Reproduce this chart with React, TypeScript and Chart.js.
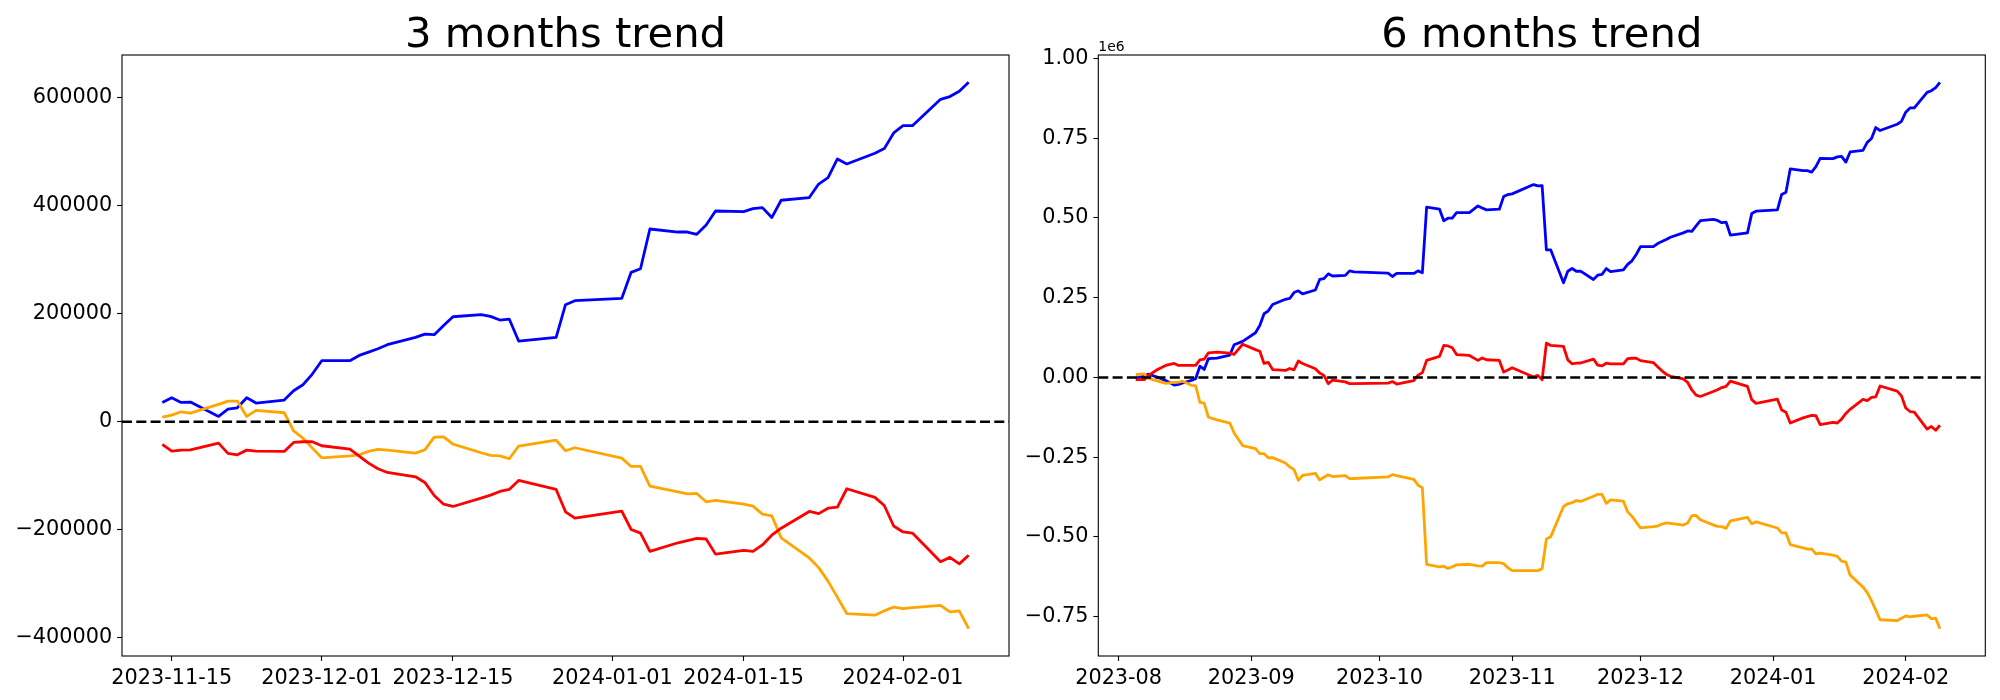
import React, { useEffect, useRef } from 'react';
import { Chart, registerables } from 'chart.js';

Chart.register(...registerables);

const FONT = '"DejaVu Sans", "Liberation Sans", sans-serif';
const DAY = 86400000;

// ---------------- 3 months trend ----------------
const LEFT_DATES = [
  '2023-11-14', '2023-11-15', '2023-11-16', '2023-11-17', '2023-11-20', '2023-11-21', '2023-11-22', '2023-11-23', '2023-11-24',
  '2023-11-27', '2023-11-28', '2023-11-29', '2023-11-30', '2023-12-01', '2023-12-04', '2023-12-05', '2023-12-06', '2023-12-07',
  '2023-12-08', '2023-12-11', '2023-12-12', '2023-12-13', '2023-12-14', '2023-12-15', '2023-12-18', '2023-12-19', '2023-12-20',
  '2023-12-21', '2023-12-22', '2023-12-26', '2023-12-27', '2023-12-28', '2024-01-02', '2024-01-03', '2024-01-04', '2024-01-05',
  '2024-01-08', '2024-01-09', '2024-01-10', '2024-01-11', '2024-01-12', '2024-01-15', '2024-01-16', '2024-01-17', '2024-01-18',
  '2024-01-19', '2024-01-22', '2024-01-23', '2024-01-24', '2024-01-25', '2024-01-26', '2024-01-29', '2024-01-30', '2024-01-31',
  '2024-02-01', '2024-02-02', '2024-02-05', '2024-02-06', '2024-02-07', '2024-02-08',
];
const LEFT_BLUE = [
  35800, 44400, 35800, 36400, 9900, 23500, 25900, 44400, 34600,
  40100, 57400, 68500, 88300, 113000, 113000, 122800, 129000, 135200,
  142600, 156200, 162300, 161100, 178000, 194400, 198200, 195100, 188300,
  190100, 149400, 156200, 216700, 224100, 228400, 276600, 283300, 356800,
  351200, 351200, 346900, 364200, 390100, 388900, 394500, 396300, 378000,
  410000, 415000, 440000, 452000, 486400, 477200, 496900, 505600, 534600,
  548100, 548100, 596900, 601900, 611700, 628300,
];
const LEFT_ORANGE = [
  8600, 12300, 18500, 16000, 32100, 38300, 38300, 9900, 21000,
  16700, -16700, -30200, -48800, -66700, -63000, -61100, -54900, -51200,
  -52500, -58000, -51900, -28400, -27800, -41400, -57400, -62300, -63000,
  -68500, -45100, -34000, -53700, -48100, -67300, -82700, -82700, -119100,
  -129600, -133300, -132700, -148200, -145700, -152500, -156200, -171000, -174000,
  -215000, -252000, -270000, -295000, -325000, -355000, -358000, -350000, -343000,
  -346000, -344000, -340000, -352000, -350000, -383000,
];
const LEFT_RED = [
  -42000, -54300, -52500, -51900, -39500, -58600, -61100, -52500, -54300,
  -54900, -38300, -37000, -37000, -44400, -50600, -63600, -76500, -87000,
  -93800, -101900, -112300, -136400, -152500, -156800, -141400, -135800, -129000,
  -125300, -108600, -125300, -166700, -178400, -165400, -199400, -206200, -240000,
  -224000, -220000, -216000, -217000, -245000, -238000, -240000, -228000, -210000,
  -197000, -166000, -170000, -160000, -158000, -124000, -140000, -155000, -193000,
  -204000, -206000, -259000, -251000, -263000, -247000,
];
const LEFT_X_TICKS = ['2023-11-15', '2023-12-01', '2023-12-15', '2024-01-01', '2024-01-15', '2024-02-01'];
const LEFT_Y_TICKS = [-400000, -200000, 0, 200000, 400000, 600000];

// ---------------- 6 months trend ----------------
const RIGHT_DATES = [
  '2023-08-05', '2023-08-07', '2023-08-08', '2023-08-10', '2023-08-12', '2023-08-14', '2023-08-15', '2023-08-16', '2023-08-18',
  '2023-08-19', '2023-08-20', '2023-08-21', '2023-08-22', '2023-08-24', '2023-08-27', '2023-08-28', '2023-08-30', '2023-09-02',
  '2023-09-03', '2023-09-04', '2023-09-05', '2023-09-06', '2023-09-09', '2023-09-10', '2023-09-11', '2023-09-12', '2023-09-13',
  '2023-09-16', '2023-09-17', '2023-09-18', '2023-09-19', '2023-09-20', '2023-09-23', '2023-09-24', '2023-09-25', '2023-10-03',
  '2023-10-04', '2023-10-05', '2023-10-09', '2023-10-10', '2023-10-11', '2023-10-12', '2023-10-15', '2023-10-16', '2023-10-17',
  '2023-10-18', '2023-10-19', '2023-10-22', '2023-10-24', '2023-10-25', '2023-10-26', '2023-10-29', '2023-10-30', '2023-10-31',
  '2023-11-01', '2023-11-06', '2023-11-07', '2023-11-08', '2023-11-09', '2023-11-10', '2023-11-13',
  '2023-11-14', '2023-11-15', '2023-11-16', '2023-11-17', '2023-11-20', '2023-11-21', '2023-11-22', '2023-11-23', '2023-11-24',
  '2023-11-27', '2023-11-28', '2023-11-29', '2023-11-30', '2023-12-01', '2023-12-04', '2023-12-05', '2023-12-06', '2023-12-07',
  '2023-12-08', '2023-12-11', '2023-12-12', '2023-12-13', '2023-12-14', '2023-12-15', '2023-12-18', '2023-12-19', '2023-12-20',
  '2023-12-21', '2023-12-22', '2023-12-26', '2023-12-27', '2023-12-28', '2024-01-02', '2024-01-03', '2024-01-04', '2024-01-05',
  '2024-01-08', '2024-01-09', '2024-01-10', '2024-01-11', '2024-01-12', '2024-01-15', '2024-01-16', '2024-01-17', '2024-01-18',
  '2024-01-19', '2024-01-22', '2024-01-23', '2024-01-24', '2024-01-25', '2024-01-26', '2024-01-30', '2024-01-31', '2024-02-01',
  '2024-02-02', '2024-02-03', '2024-02-06', '2024-02-07', '2024-02-08', '2024-02-09',
];
const RIGHT_BLUE = [
  -2000, 4000, 10400, 1000, -10000, -24000, -22000, -17700, -9400,
  -4200, 35000, 25000, 59000, 60600, 70000, 102300, 113000, 140000,
  162900, 199500, 208800, 228700, 245000, 247500, 266000, 271500, 262100,
  274000, 307000, 309500, 324800, 318000, 320000, 334000, 331000, 327000,
  316400, 326000, 326000, 334000, 328000, 533600, 528000, 491000, 499200,
  499200, 516400, 516900, 537800, 531000, 525300, 527400, 567000, 573300,
  575400, 604600, 600500, 601500, 400000, 400000, 297000,
  332800, 341400, 332800, 333400, 306900, 320500, 322900, 341400, 331600,
  337100, 354400, 365500, 385300, 410000, 410000, 419800, 426000, 432200,
  439600, 453200, 459300, 458100, 475000, 491400, 495200, 492100, 485300,
  487100, 446400, 453200, 513700, 521100, 525400, 573600, 580300, 653800,
  648200, 648200, 643900, 661200, 687100, 685900, 691500, 693300, 675000,
  707000, 712000, 737000, 749000, 783400, 774200, 793900, 802600, 831600,
  845100, 845100, 893900, 898900, 908700, 925300,
];
const RIGHT_ORANGE = [
  8400, 10900, -3000, -11000, -19000, -15500, -14600, -12000, -25000,
  -26100, -78000, -80400, -125000, -133000, -143100, -174400, -214000, -223500,
  -239100, -239100, -252000, -251700, -268400, -281000, -289000, -322700, -307000,
  -301000, -321500, -313000, -305500, -311000, -308100, -317500, -317000, -312200,
  -304900, -308000, -320000, -338000, -345600, -586000, -594000, -592000, -599000,
  -594000, -588000, -586000, -591000, -592000, -581000, -581000, -584000, -597000,
  -606000, -606000, -606000, -600000, -507000, -500000, -405000,
  -396400, -392700, -386500, -389000, -372900, -366700, -366700, -395100, -384000,
  -388300, -421700, -435200, -453800, -471700, -468000, -466100, -459900, -456200,
  -457500, -463000, -456900, -433400, -432800, -446400, -462400, -467300, -468000,
  -473500, -450100, -439000, -458700, -453100, -472300, -487700, -487700, -524100,
  -534600, -538300, -537700, -553200, -550700, -557500, -561200, -576000, -579000,
  -620000, -657000, -675000, -700000, -730000, -760000, -763000, -755000, -748000,
  -751000, -749000, -745000, -757000, -755000, -788000,
];
const RIGHT_RED = [
  -7300, -7300, 6300, 24000, 37600, 43900, 37600, 37600, 37600,
  37600, 55000, 57000, 77000, 79400, 76200, 72100, 104000, 87000,
  82000, 43800, 47000, 24500, 21900, 28000, 23500, 51200, 43800,
  27100, 14000, 6300, -19800, -8500, -14000, -19800, -19500, -17800,
  -13000, -20800, -10500, 7000, 15000, 53300, 65800, 100300, 98500,
  93000, 71500, 68900, 53300, 61000, 55300, 53300, 16700, 23500,
  30300, 1000, 6300, -7300, 107600, 100300, 97000,
  55000, 42700, 44500, 45100, 57500, 38400, 35900, 44500, 42700,
  42100, 58700, 60000, 60000, 52600, 46400, 33400, 20500, 10000,
  3200, -4900, -15300, -39400, -55500, -59800, -44400, -38800, -32000,
  -28300, -11600, -28300, -69700, -81400, -68400, -102400, -109200, -143000,
  -127000, -123000, -119000, -120000, -148000, -141000, -143000, -131000, -113000,
  -100000, -69000, -73000, -63000, -61000, -27000, -43000, -58000, -96000,
  -107000, -109000, -162000, -154000, -166000, -150000,
];
const RIGHT_X_TICKS = ['2023-08-01', '2023-09-01', '2023-10-01', '2023-11-01', '2023-12-01', '2024-01-01', '2024-02-01'];
const RIGHT_Y_TICKS = [-750000, -500000, -250000, 0, 250000, 500000, 750000, 1000000];

const COLORS = { blue: '#0000ff', orange: '#ffa500', red: '#ff0000' };

const toMs = (s: string) => Date.parse(s + 'T00:00:00Z');
const pad2 = (n: number) => String(n).padStart(2, '0');
const minus = (s: string) => s.replace('-', '\u2212');

const framePlugin = {
  id: 'frame',
  afterDatasetsDraw(chart: any, _args: any, opts: any) {
    const { ctx, chartArea: a, scales } = chart;
    const y0 = scales.y.getPixelForValue(0);
    ctx.save();
    ctx.beginPath();
    ctx.rect(a.left, a.top, a.right - a.left, a.bottom - a.top);
    ctx.clip();
    ctx.setLineDash([10, 4.3]);
    ctx.lineWidth = 2.5;
    ctx.strokeStyle = '#000';
    ctx.beginPath();
    ctx.moveTo(a.left, y0);
    ctx.lineTo(a.right, y0);
    ctx.stroke();
    ctx.restore();

    ctx.save();
    ctx.lineWidth = 1.1;
    ctx.strokeStyle = '#000';
    ctx.strokeRect(a.left, a.top, a.right - a.left, a.bottom - a.top);
    ctx.fillStyle = '#000';
    ctx.font = `41.7px ${FONT}`;
    ctx.textAlign = 'center';
    ctx.textBaseline = 'alphabetic';
    ctx.fillText(opts.title, (a.left + a.right) / 2, a.top - 8.3);
    if (opts.offsetText) {
      ctx.font = `13.9px ${FONT}`;
      ctx.textAlign = 'left';
      ctx.fillText(opts.offsetText, a.left, a.top - 4);
    }
    ctx.restore();
  },
};

function buildConfig(p: any) {
  const ds = (label: string, vals: number[], color: string) => ({
    label,
    data: p.dates.map((d: string, i: number) => ({ x: toMs(d), y: vals[i] })),
    borderColor: color,
    backgroundColor: color,
    borderWidth: 2.8,
    pointRadius: 0,
    tension: 0,
    fill: false,
    borderJoinStyle: 'round',
  });
  const all = [...p.blue, ...p.orange, ...p.red];
  const ymin = Math.min(...all);
  const ymax = Math.max(...all);
  const ym = (ymax - ymin) * 0.05;
  const tickCommon = { color: '#000', font: { size: 20.8, family: FONT }, padding: 4.9, autoSkip: false, maxRotation: 0 };
  const gridCommon = { display: true, drawOnChartArea: false, drawTicks: true, tickLength: 4.9, tickColor: '#000', tickWidth: 1.1, color: '#000' };
  return {
    type: 'line',
    data: {
      datasets: [
        ds('red', p.red, COLORS.red),
        ds('orange', p.orange, COLORS.orange),
        ds('blue', p.blue, COLORS.blue),
      ],
    },
    options: {
      animation: false,
      responsive: false,
      devicePixelRatio: 1,
      events: [],
      layout: { padding: { left: 0, right: p.padRight, top: 55, bottom: 0 } },
      plugins: {
        legend: { display: false },
        tooltip: { enabled: false },
        title: { display: false },
        frame: { title: p.title, offsetText: p.offsetText },
      },
      scales: {
        x: {
          type: 'linear',
          min: p.xmin,
          max: p.xmax,
          afterBuildTicks: (s: any) => { s.ticks = p.xTicks.map((d: string) => ({ value: toMs(d) })); },
          afterFit: (s: any) => { s.height = 44; },
          ticks: { ...tickCommon, callback: p.xFormat },
          grid: gridCommon,
          border: { display: false },
        },
        y: {
          type: 'linear',
          min: ymin - ym,
          max: ymax + ym,
          afterBuildTicks: (s: any) => { s.ticks = p.yTicks.map((v: number) => ({ value: v })); },
          afterFit: (s: any) => { s.width = p.yWidth; },
          ticks: { ...tickCommon, callback: p.yFormat },
          grid: gridCommon,
          border: { display: false },
        },
      },
    },
    plugins: [framePlugin],
  };
}

export default function App() {
  const leftRef = useRef<HTMLCanvasElement>(null);
  const rightRef = useRef<HTMLCanvasElement>(null);

  useEffect(() => {
    const lFirst = toMs(LEFT_DATES[0]);
    const lLast = toMs(LEFT_DATES[LEFT_DATES.length - 1]);
    const lm = (lLast - lFirst) * 0.05;
    const aug1 = toMs('2023-08-01');
    const left = new Chart(leftRef.current as HTMLCanvasElement, buildConfig({
      title: '3 months trend',
      dates: LEFT_DATES, blue: LEFT_BLUE, orange: LEFT_ORANGE, red: LEFT_RED,
      xmin: lFirst - lm, xmax: lLast + lm,
      xTicks: LEFT_X_TICKS, yTicks: LEFT_Y_TICKS,
      xFormat: (v: number) => { const d = new Date(v); return `${d.getUTCFullYear()}-${pad2(d.getUTCMonth() + 1)}-${pad2(d.getUTCDate())}`; },
      yFormat: (v: number) => minus(String(v)),
      yWidth: 122, padRight: 6,
    }) as any);
    const right = new Chart(rightRef.current as HTMLCanvasElement, buildConfig({
      title: '6 months trend', offsetText: '1e6',
      dates: RIGHT_DATES, blue: RIGHT_BLUE, orange: RIGHT_ORANGE, red: RIGHT_RED,
      xmin: aug1 - 4.75 * DAY, xmax: aug1 + 202.6 * DAY,
      xTicks: RIGHT_X_TICKS, yTicks: RIGHT_Y_TICKS,
      xFormat: (v: number) => { const d = new Date(v); return `${d.getUTCFullYear()}-${pad2(d.getUTCMonth() + 1)}`; },
      yFormat: (v: number) => minus((v / 1e6).toFixed(2)),
      yWidth: 83.3, padRight: 14.7,
    }) as any);
    return () => { left.destroy(); right.destroy(); };
  }, []);

  return (
    <div style={{ position: 'fixed', left: 0, top: 0, width: 2000, height: 700, background: '#fff' }}>
      <canvas ref={leftRef} width={1015} height={700} style={{ position: 'absolute', left: 0, top: 0 }} />
      <canvas ref={rightRef} width={985} height={700} style={{ position: 'absolute', left: 1015, top: 0 }} />
    </div>
  );
}
